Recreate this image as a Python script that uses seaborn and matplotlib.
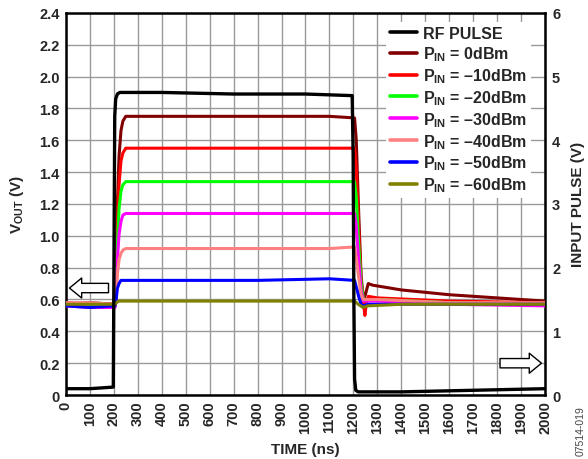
import matplotlib
matplotlib.use("Agg")
import matplotlib.pyplot as plt
import seaborn as sns
import pandas as pd

sns.set_style("white")
plt.rcParams['font.family'] = ['Liberation Sans', 'DejaVu Sans']
plt.rcParams['font.weight'] = 'bold'
plt.rcParams['mathtext.fontset'] = 'custom'
plt.rcParams['mathtext.rm'] = 'Liberation Sans:bold'
plt.rcParams['mathtext.it'] = 'Liberation Sans:bold'
plt.rcParams['mathtext.bf'] = 'Liberation Sans:bold'

# ---------------- data ----------------
rf_t = [0, 100, 198, 201, 204, 208, 215, 225, 400, 700, 1000, 1195, 1199, 1202, 1205, 1210, 1220, 1400, 1700, 2000]
rf_v = [0.04, 0.04, 0.05, 0.9, 1.75, 1.86, 1.89, 1.90, 1.90, 1.89, 1.89, 1.88, 1.5, 0.6, 0.1, 0.03, 0.02, 0.02, 0.03, 0.04]

p0_t = [0, 100, 205, 210, 215, 222, 230, 238, 250, 500, 800, 1100, 1205, 1212, 1222, 1232, 1242, 1250, 1262, 1280, 1400, 1600, 1800, 2000]
p0_v = [0.57, 0.58, 0.57, 0.75, 1.20, 1.50, 1.66, 1.72, 1.75, 1.75, 1.75, 1.75, 1.74, 1.60, 1.15, 0.75, 0.60, 0.63, 0.70, 0.69, 0.66, 0.63, 0.61, 0.59]

p10_t = [0, 100, 205, 210, 215, 222, 230, 238, 250, 500, 800, 1100, 1205, 1212, 1222, 1232, 1242, 1248, 1254, 1262, 1300, 1600, 2000]
p10_v = [0.58, 0.57, 0.57, 0.70, 1.05, 1.32, 1.47, 1.52, 1.55, 1.55, 1.55, 1.55, 1.55, 1.42, 1.05, 0.72, 0.58, 0.50, 0.58, 0.62, 0.61, 0.59, 0.58]

p20_t = [0, 100, 205, 210, 215, 222, 230, 238, 250, 500, 800, 1100, 1205, 1212, 1222, 1232, 1242, 1260, 1300, 1600, 2000]
p20_v = [0.57, 0.56, 0.56, 0.66, 0.95, 1.17, 1.28, 1.32, 1.34, 1.34, 1.34, 1.34, 1.34, 1.24, 0.95, 0.70, 0.60, 0.60, 0.60, 0.58, 0.57]

p30_t = [0, 100, 205, 210, 215, 222, 230, 238, 250, 500, 800, 1100, 1205, 1212, 1222, 1232, 1242, 1260, 1300, 1600, 2000]
p30_v = [0.56, 0.55, 0.55, 0.63, 0.85, 1.01, 1.09, 1.13, 1.14, 1.14, 1.14, 1.14, 1.14, 1.06, 0.85, 0.66, 0.59, 0.59, 0.59, 0.57, 0.56]

p40_t = [0, 100, 205, 210, 215, 222, 230, 238, 250, 500, 800, 1100, 1205, 1212, 1222, 1232, 1242, 1260, 1300, 1600, 2000]
p40_v = [0.58, 0.58, 0.57, 0.62, 0.76, 0.85, 0.89, 0.91, 0.92, 0.92, 0.92, 0.92, 0.93, 0.86, 0.74, 0.63, 0.60, 0.60, 0.60, 0.58, 0.58]

p50_t = [0, 100, 205, 210, 215, 222, 230, 238, 250, 500, 800, 1100, 1205, 1212, 1222, 1232, 1242, 1260, 1300, 1600, 2000]
p50_v = [0.56, 0.55, 0.56, 0.60, 0.67, 0.70, 0.72, 0.72, 0.72, 0.72, 0.72, 0.73, 0.72, 0.68, 0.62, 0.57, 0.56, 0.57, 0.57, 0.57, 0.57]

p60_t = [0, 100, 205, 212, 220, 300, 600, 900, 1205, 1220, 1240, 1260, 1400, 1700, 2000]
p60_v = [0.57, 0.57, 0.57, 0.58, 0.59, 0.59, 0.59, 0.59, 0.59, 0.57, 0.55, 0.56, 0.57, 0.57, 0.57]

series = [
    ("RF PULSE", rf_t, rf_v, "black"),
    (r"$P_{IN}$ = 0dBm", p0_t, p0_v, "#800000"),
    (r"$P_{IN}$ = –10dBm", p10_t, p10_v, "#ff0000"),
    (r"$P_{IN}$ = –20dBm", p20_t, p20_v, "#00ff00"),
    (r"$P_{IN}$ = –30dBm", p30_t, p30_v, "#ff00ff"),
    (r"$P_{IN}$ = –40dBm", p40_t, p40_v, "#ff8080"),
    (r"$P_{IN}$ = –50dBm", p50_t, p50_v, "#0000ff"),
    (r"$P_{IN}$ = –60dBm", p60_t, p60_v, "#808000"),
]

x_ticks = list(range(0, 2001, 100))
y_ticks = [0, 0.2, 0.4, 0.6, 0.8, 1.0, 1.2, 1.4, 1.6, 1.8, 2.0, 2.2, 2.4]
y2_ticks = [0, 1, 2, 3, 4, 5, 6]

# ---------------- figure ----------------
fig = plt.figure(figsize=(5.88, 4.60), dpi=100)
ax = fig.add_axes([0.112, 0.139, 0.815, 0.831])

zorders = [10, 3, 4, 5, 6, 7, 8, 9]
for (lab, t, v, c), z in zip(series, zorders):
    df = pd.DataFrame({"t": t, "v": v})
    sns.lineplot(data=df, x="t", y="v", color=c, ax=ax, label=lab,
                 linewidth=2.4 if c == "black" else 2.2, estimator=None,
                 zorder=z)

ax.set_xlim(0, 2000)
ax.set_ylim(0, 2.4)
ax.set_xticks(x_ticks)
ax.set_xticklabels([str(x) for x in x_ticks], rotation=90, fontsize=10.5, fontweight='bold')
ax.set_yticks(y_ticks)
ax.set_yticklabels([f"{y:.1f}" if y else "0" for y in y_ticks], fontsize=10.5, fontweight='bold')
ax.tick_params(axis='x', length=0, pad=4)
ax.tick_params(axis='y', length=0, pad=4.5)
ax.grid(True, color='#999999', linewidth=1.0)
ax.set_axisbelow(True)
for s in ax.spines.values():
    s.set_color('black')
    s.set_linewidth(1.8)

ax.set_xlabel("TIME (ns)", fontsize=11, fontweight='bold', labelpad=6)
ax.set_ylabel(r"V$_{OUT}$ (V)", fontsize=11, fontweight='bold', labelpad=9)

ax2 = ax.twinx()
ax2.set_ylim(0, 6)
ax2.set_yticks(y2_ticks)
ax2.set_yticklabels([str(y) for y in y2_ticks], fontsize=10.5, fontweight='bold')
ax2.tick_params(axis='y', length=0, pad=5)
ax2.set_ylabel("INPUT PULSE (V)", fontsize=11, fontweight='bold', labelpad=8)
for s in ax2.spines.values():
    s.set_visible(False)

leg = ax.legend(loc='upper right', bbox_to_anchor=(0.975, 0.982),
                prop=dict(size=11.5, weight='bold'),
                frameon=True, fancybox=False, framealpha=1, facecolor='white',
                edgecolor='none', handlelength=1.7, handletextpad=0.35,
                labelspacing=0.2, borderpad=0.25, borderaxespad=0.15)
leg.set_zorder(20)
for line in leg.get_lines():
    line.set_linewidth(2.6)

# direction arrows
arrow_style = dict(arrowstyle='simple,head_length=0.55,head_width=0.9,tail_width=0.42',
                   fc='white', ec='black', lw=1.0, shrinkA=0, shrinkB=0, mutation_scale=16)
ax.annotate('', xy=(15, 0.672), xytext=(178, 0.672), arrowprops=arrow_style, zorder=15)
ax.annotate('', xy=(1985, 0.20), xytext=(1812, 0.20), arrowprops=arrow_style, zorder=15)

fig.text(0.988, 0.008, "07514-019", rotation=90, fontsize=7.5, color='#444444',
         fontweight='normal', ha='center', va='bottom')

fig.savefig("out.png", dpi=100)
